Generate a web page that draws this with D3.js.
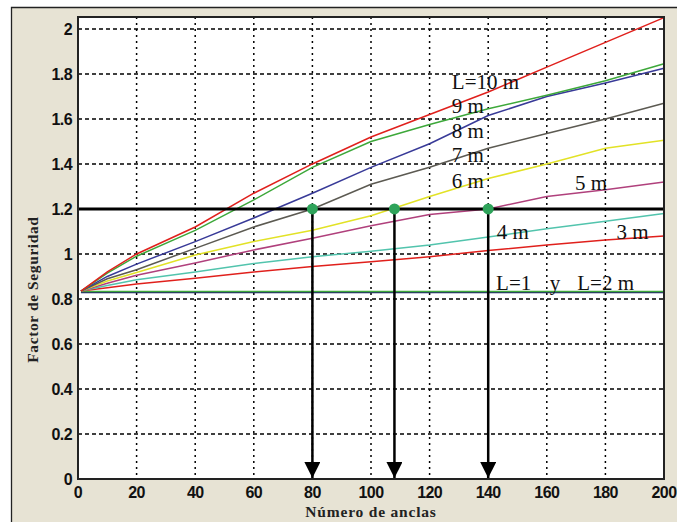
<!DOCTYPE html>
<html>
<head>
<meta charset="utf-8">
<script src="https://cdn.jsdelivr.net/npm/d3@7"></script>
<style>
  body { margin: 0; background: #fff; }
  .tick-label { font-family: "Liberation Sans", Arial, sans-serif; font-weight: bold; font-size: 16px; letter-spacing: -0.6px; fill: #111; }
  .axis-title { font-family: "Liberation Serif", "Times New Roman", serif; font-weight: bold; font-size: 15.5px; fill: #222; }
  .curve-label { font-family: "Liberation Serif", "Times New Roman", serif; font-size: 21px; fill: #111; }
</style>
</head>
<body>
<div class="chart"></div>
<script>
var width = 677, height = 522;

// number of anchors (x) where the curves were read
var anchors = [1, 10, 20, 40, 60, 80, 100, 120, 140, 160, 180, 200];

// factor of safety for each anchor length
var fs_L10 = [0.835, 0.92, 1.0, 1.12, 1.27, 1.40, 1.52, 1.62, 1.72, 1.83, 1.94, 2.05];
var fs_L9  = [0.835, 0.915, 0.99, 1.105, 1.24, 1.385, 1.50, 1.575, 1.645, 1.705, 1.77, 1.845];
var fs_L8  = [0.835, 0.90, 0.955, 1.055, 1.16, 1.27, 1.385, 1.49, 1.615, 1.70, 1.76, 1.825];
var fs_L7  = [0.835, 0.89, 0.93, 1.025, 1.12, 1.20, 1.31, 1.385, 1.47, 1.535, 1.60, 1.67];
var fs_L6  = [0.835, 0.88, 0.918, 0.995, 1.055, 1.105, 1.17, 1.255, 1.335, 1.40, 1.47, 1.505];
var fs_L5  = [0.835, 0.87, 0.905, 0.96, 1.018, 1.07, 1.125, 1.175, 1.20, 1.255, 1.285, 1.32];
var fs_L4  = [0.835, 0.86, 0.885, 0.92, 0.958, 0.988, 1.012, 1.04, 1.075, 1.112, 1.145, 1.18];
var fs_L3  = [0.835, 0.85, 0.866, 0.892, 0.92, 0.944, 0.965, 0.988, 1.015, 1.04, 1.062, 1.08];
var fs_L2  = [0.833, 0.833, 0.833, 0.833, 0.833, 0.833, 0.833, 0.833, 0.833, 0.833, 0.833, 0.833];
var fs_L1  = [0.829, 0.829, 0.829, 0.829, 0.829, 0.829, 0.829, 0.829, 0.829, 0.829, 0.829, 0.829];

var series = [
  {name: "L1", values: fs_L1, color: "#23236e"},
  {name: "L2", values: fs_L2, color: "#3faa3a"},
  {name: "L3", values: fs_L3, color: "#e0201c"},
  {name: "L4", values: fs_L4, color: "#52c4ad"},
  {name: "L5", values: fs_L5, color: "#b0407c"},
  {name: "L6", values: fs_L6, color: "#e2e226"},
  {name: "L7", values: fs_L7, color: "#5c5a52"},
  {name: "L8", values: fs_L8, color: "#383a98"},
  {name: "L9", values: fs_L9, color: "#3da83a"},
  {name: "L10", values: fs_L10, color: "#e0201c"}
];

var xTicks = [0, 20, 40, 60, 80, 100, 120, 140, 160, 180, 200];
var yTicks = [0, 0.2, 0.4, 0.6, 0.8, 1, 1.2, 1.4, 1.6, 1.8, 2];

var fs_required = 1.2;
var needed_anchors = [80, 108, 140];

// curve labels: text, anchor count, factor of safety (left/baseline)
var label_text = ["L=10 m", "9 m", "8 m", "7 m", "6 m", "5 m", "4 m", "3 m", "L=1", "y", "L=2 m"];
var label_x    = [127.6, 127.6, 127.6, 127.6, 127.6, 169.6, 142.9, 183.8, 142.7, 161, 170.4];
var label_y    = [1.733, 1.627, 1.516, 1.409, 1.293, 1.284, 1.067, 1.067, 0.84, 0.84, 0.84];

var margin = {top: 17, left: 78, right: 13, bottom: 43};
var plot_w = width - margin.left - margin.right,
    plot_h = height - margin.top - margin.bottom;

var x = d3.scaleLinear().domain([0, 200]).range([0, plot_w]);
var y = d3.scaleLinear().domain([0, 2.053]).range([plot_h, 0]);

var svg = d3.select(".chart").append("svg")
    .attr("width", width)
    .attr("height", height);

// figure background
svg.append("rect")
    .attr("x", 11).attr("y", 7)
    .attr("width", width - 11).attr("height", height - 7)
    .attr("fill", "#e7e3d4");
svg.append("path")
    .attr("d", "M11.5," + height + "V7.5H" + width)
    .attr("fill", "none").attr("stroke", "#222").attr("stroke-width", 1.3);

svg.append("defs").append("marker")
    .attr("id", "arrow")
    .attr("markerUnits", "userSpaceOnUse")
    .attr("viewBox", "0 0 16 16")
    .attr("refX", 16).attr("refY", 8)
    .attr("markerWidth", 16).attr("markerHeight", 16)
    .attr("orient", "auto")
  .append("path")
    .attr("d", "M0,0L16,8L0,16Z")
    .attr("fill", "#000");

var g = svg.append("g")
    .attr("transform", "translate(" + margin.left + "," + margin.top + ")");

g.append("rect")
    .attr("width", plot_w).attr("height", plot_h)
    .attr("fill", "#fff");

// grid
g.selectAll(".hgrid")
    .data(yTicks.filter(function(d){ return d > 0 && d < 2.05; }))
  .enter().append("line")
    .attr("class", "hgrid")
    .attr("x1", 0).attr("x2", plot_w)
    .attr("y1", function(d){ return y(d); }).attr("y2", function(d){ return y(d); })
    .attr("stroke", "#000").attr("stroke-width", 1.5)
    .attr("stroke-dasharray", "4,3");

g.selectAll(".vgrid")
    .data(xTicks.filter(function(d){ return d > 0 && d < 200; }))
  .enter().append("line")
    .attr("class", "vgrid")
    .attr("x1", function(d){ return x(d); }).attr("x2", function(d){ return x(d); })
    .attr("y1", 0).attr("y2", plot_h)
    .attr("stroke", "#000").attr("stroke-width", 1.5)
    .attr("stroke-dasharray", "2,4");

// curves
var line = d3.line()
    .x(function(d, i){ return x(anchors[i]); })
    .y(function(d){ return y(d); });

g.selectAll(".curve")
    .data(series)
  .enter().append("path")
    .attr("class", "curve")
    .attr("d", function(d){ return line(d.values); })
    .attr("fill", "none")
    .attr("stroke", function(d){ return d.color; })
    .attr("stroke-width", 1.5);

// required FS line
g.append("line")
    .attr("x1", 0).attr("x2", plot_w)
    .attr("y1", y(fs_required)).attr("y2", y(fs_required))
    .attr("stroke", "#000").attr("stroke-width", 3);

// arrows down to the axis
g.selectAll(".arrow")
    .data(needed_anchors)
  .enter().append("line")
    .attr("class", "arrow")
    .attr("x1", function(d){ return x(d); }).attr("x2", function(d){ return x(d); })
    .attr("y1", y(fs_required)).attr("y2", y(0) - 1)
    .attr("stroke", "#000").attr("stroke-width", 2.5)
    .attr("marker-end", "url(#arrow)");

g.selectAll(".dot")
    .data(needed_anchors)
  .enter().append("circle")
    .attr("class", "dot")
    .attr("cx", function(d){ return x(d); })
    .attr("cy", y(fs_required))
    .attr("r", 5.5)
    .attr("fill", "#2ea35a");

// curve labels
g.selectAll(".curve-label")
    .data(label_text)
  .enter().append("text")
    .attr("class", "curve-label")
    .attr("x", function(d, i){ return x(label_x[i]); })
    .attr("y", function(d, i){ return y(label_y[i]); })
    .text(function(d){ return d; });

// axes box
g.append("rect")
    .attr("width", plot_w).attr("height", plot_h)
    .attr("fill", "none").attr("stroke", "#222").attr("stroke-width", 2);

// tick labels
g.selectAll(".ylab")
    .data(yTicks)
  .enter().append("text")
    .attr("class", "tick-label")
    .attr("x", -6)
    .attr("y", function(d){ return y(d); })
    .attr("dy", "0.36em")
    .style("text-anchor", "end")
    .text(function(d){ return d3.format("~g")(d); });

g.selectAll(".xlab")
    .data(xTicks)
  .enter().append("text")
    .attr("class", "tick-label")
    .attr("x", function(d){ return x(d); })
    .attr("y", plot_h + 19)
    .style("text-anchor", "middle")
    .text(function(d){ return d; });

svg.append("text")
    .attr("class", "axis-title")
    .attr("x", margin.left + plot_w / 2)
    .attr("y", 517)
    .style("letter-spacing", "0.8px")
    .style("text-anchor", "middle")
    .text("Número de anclas");

svg.append("text")
    .attr("class", "axis-title")
    .attr("transform", "translate(38," + (margin.top + plot_h * 0.59) + ") rotate(-90)")
    .style("letter-spacing", "0.6px")
    .style("text-anchor", "middle")
    .text("Factor de Seguridad");
</script>
</body>
</html>
